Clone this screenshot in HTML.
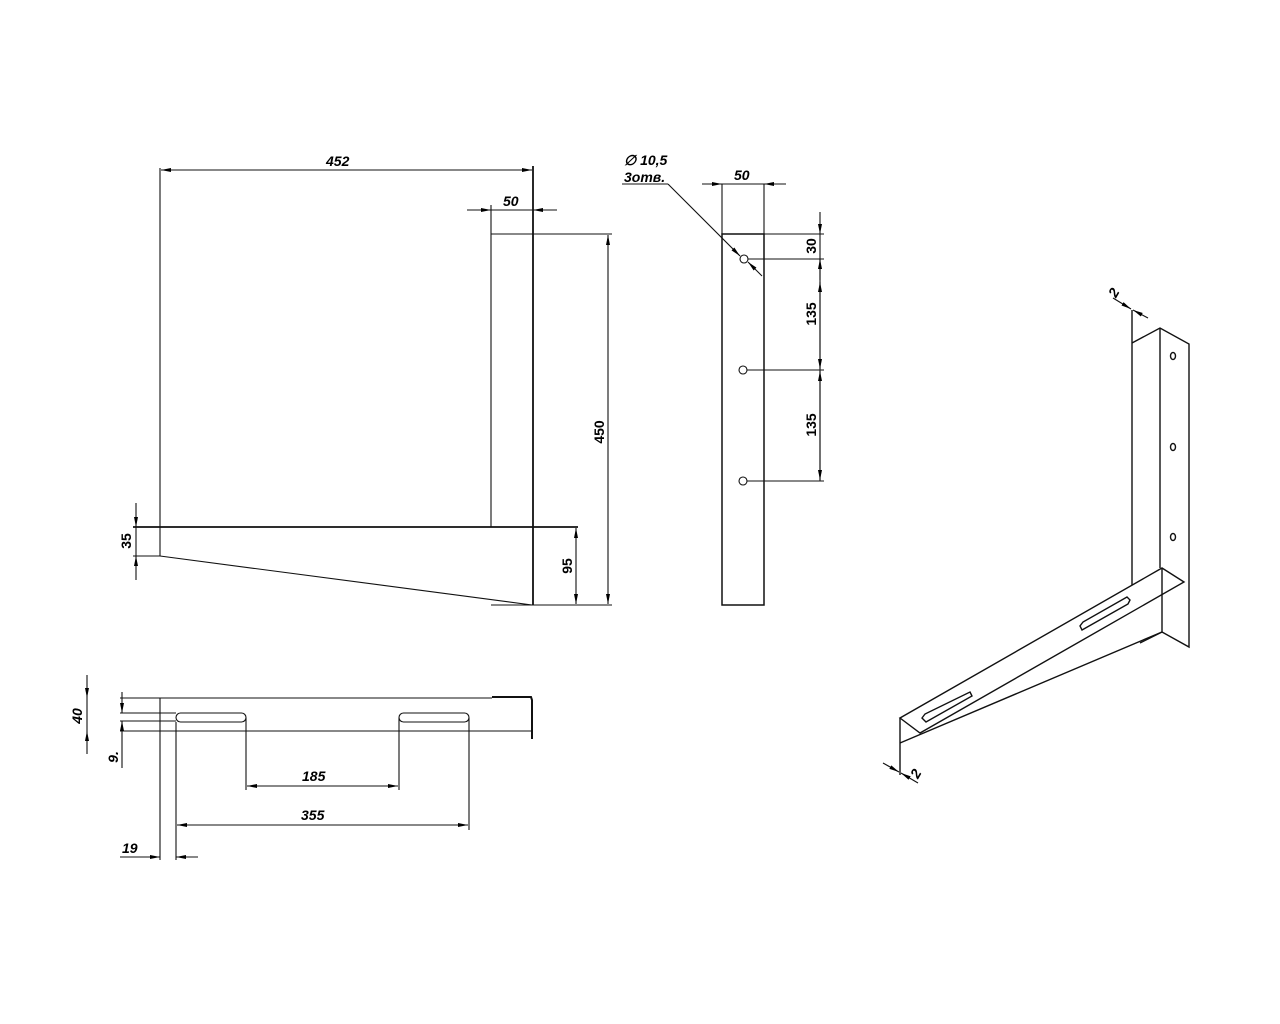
<!DOCTYPE html>
<html><head><meta charset="utf-8"><style>html,body{margin:0;padding:0;background:#fff}svg{display:block}</style></head>
<body>
<svg width="1280" height="1024" viewBox="0 0 1280 1024" xmlns="http://www.w3.org/2000/svg" font-family="Liberation Sans, Arial, sans-serif" font-style="italic" font-weight="bold" font-size="14">
<defs>
<marker id="a" viewBox="0 0 10 4" refX="10" refY="2" markerWidth="10" markerHeight="4" markerUnits="userSpaceOnUse" orient="auto-start-reverse"><path d="M0,0 L10,2 L0,4 z" fill="#000"/></marker>
</defs>
<g stroke="#111" stroke-width="1.1" fill="none">
<line x1="160" y1="168" x2="160" y2="556"/>
<line x1="533" y1="166" x2="533" y2="605" stroke-width="1.8"/>
<line x1="491" y1="205" x2="491" y2="527"/>
<line x1="491" y1="234" x2="612" y2="234"/>
<line x1="133" y1="527" x2="578" y2="527" stroke-width="1.8"/>
<line x1="133" y1="556" x2="160" y2="556"/>
<line x1="160" y1="556" x2="532" y2="605"/>
<line x1="491" y1="605" x2="612" y2="605"/>
<line x1="161" y1="170" x2="532" y2="170" marker-start="url(#a)" marker-end="url(#a)"/>
<line x1="467" y1="210" x2="491" y2="210" marker-end="url(#a)"/>
<line x1="557" y1="210" x2="533" y2="210" marker-end="url(#a)"/>
<line x1="491" y1="210" x2="533" y2="210"/>
<line x1="608" y1="235" x2="608" y2="604" marker-start="url(#a)" marker-end="url(#a)"/>
<line x1="576" y1="528" x2="576" y2="604" marker-start="url(#a)" marker-end="url(#a)"/>
<line x1="136" y1="503" x2="136" y2="527" marker-end="url(#a)"/>
<line x1="136" y1="580" x2="136" y2="556" marker-end="url(#a)"/>
<line x1="136" y1="527" x2="136" y2="556"/>
<rect x="722" y="234" width="42" height="371" stroke-width="1.5"/>
<line x1="722" y1="184" x2="722" y2="234"/>
<line x1="764" y1="184" x2="764" y2="234"/>
<line x1="702" y1="184" x2="722" y2="184" marker-end="url(#a)"/>
<line x1="786" y1="184" x2="764" y2="184" marker-end="url(#a)"/>
<line x1="722" y1="184" x2="764" y2="184"/>
<line x1="722" y1="234" x2="824" y2="234"/>
<circle cx="744" cy="259" r="4"/><circle cx="743" cy="370" r="4"/><circle cx="743" cy="481" r="4"/>
<line x1="748" y1="259" x2="824" y2="259"/>
<line x1="747" y1="370" x2="824" y2="370"/>
<line x1="747" y1="481" x2="824" y2="481"/>
<line x1="820" y1="212" x2="820" y2="234" marker-end="url(#a)"/>
<line x1="820" y1="234" x2="820" y2="259"/>
<line x1="820" y1="259" x2="820" y2="481"/>
<line x1="820" y1="280" x2="820" y2="259" marker-end="url(#a)"/>
<line x1="820" y1="282" x2="820" y2="369" marker-start="url(#a)" marker-end="url(#a)"/>
<line x1="820" y1="371" x2="820" y2="480" marker-start="url(#a)" marker-end="url(#a)"/>
<line x1="622" y1="184" x2="668" y2="184"/>
<line x1="668" y1="184" x2="740" y2="256" marker-end="url(#a)"/>
<line x1="762" y1="276" x2="748" y2="262" marker-end="url(#a)"/>
<line x1="120" y1="698" x2="492" y2="698"/>
<path d="M492,697 L531,697 L532,700 L532,739" stroke-width="2"/>
<line x1="120" y1="731" x2="532" y2="731"/>
<line x1="120" y1="713" x2="176" y2="713"/>
<line x1="120" y1="721" x2="176" y2="721"/>
<rect x="176" y="713" width="70" height="9" rx="4.5"/>
<rect x="399" y="713" width="70" height="9" rx="4.5"/>
<line x1="160" y1="698" x2="160" y2="860"/>
<line x1="176" y1="722" x2="176" y2="860"/>
<line x1="246" y1="718" x2="246" y2="790"/>
<line x1="399" y1="718" x2="399" y2="790"/>
<line x1="469" y1="718" x2="469" y2="830"/>
<line x1="247" y1="786" x2="398" y2="786" marker-start="url(#a)" marker-end="url(#a)"/>
<line x1="177" y1="825" x2="468" y2="825" marker-start="url(#a)" marker-end="url(#a)"/>
<line x1="120" y1="857" x2="160" y2="857" marker-end="url(#a)"/>
<line x1="198" y1="857" x2="176" y2="857" marker-end="url(#a)"/>
<line x1="87" y1="675" x2="87" y2="698" marker-end="url(#a)"/>
<line x1="87" y1="754" x2="87" y2="731" marker-end="url(#a)"/>
<line x1="87" y1="698" x2="87" y2="731"/>
<line x1="122" y1="692" x2="122" y2="713" marker-end="url(#a)"/>
<line x1="122" y1="768" x2="122" y2="721" marker-end="url(#a)"/>
<g stroke-width="1.4">
<path d="M1132,343 L1160,328 L1189,344 L1189,647 L1162,632"/>
<line x1="1132" y1="310" x2="1132" y2="585"/>
<line x1="1160" y1="328" x2="1160" y2="568"/>
<line x1="1162" y1="568" x2="1162" y2="632"/>
<path d="M1162,568 L1184,582 L920,733 L900,718 Z"/>
<line x1="1162" y1="632" x2="900" y2="743"/>
<line x1="900" y1="718" x2="900" y2="775"/>
<line x1="1162" y1="632" x2="1140" y2="643"/>
<path d="M1130,600 L1128,604 L1082,630 L1080,626 L1083,622 L1127,597 Z"/>
<path d="M970,692 L972,696 L926,722 L922,718 L925,714 Z"/>
<ellipse cx="1173" cy="356" rx="2.5" ry="3.5"/>
<ellipse cx="1173" cy="447" rx="2.5" ry="3.5"/>
<ellipse cx="1173" cy="537" rx="2.5" ry="3.5"/>
</g>
<line x1="1113" y1="298" x2="1131" y2="309" marker-end="url(#a)"/>
<line x1="1148" y1="318" x2="1133" y2="310" marker-end="url(#a)"/>
<line x1="883" y1="763" x2="899" y2="772" marker-end="url(#a)"/>
<line x1="918" y1="783" x2="901" y2="773" marker-end="url(#a)"/>
</g>
<g fill="#000" stroke="none">
<text x="326" y="166">452</text>
<text x="503" y="206">50</text>
<text x="734" y="180">50</text>
<text x="624" y="165">∅ 10,5</text>
<text x="624" y="182">3отв.</text>
<text x="302" y="781">185</text>
<text x="301" y="820">355</text>
<text x="122" y="853">19</text>
<g font-style="normal">
<text transform="translate(604,432) rotate(-90)" text-anchor="middle">450</text>
<text transform="translate(572,566) rotate(-90)" text-anchor="middle">95</text>
<text transform="translate(816,246) rotate(-90)" text-anchor="middle">30</text>
<text transform="translate(816,314) rotate(-90)" text-anchor="middle">135</text>
<text transform="translate(816,425) rotate(-90)" text-anchor="middle">135</text>
<text transform="translate(131,541) rotate(-90)" text-anchor="middle">35</text>
</g>
<text transform="translate(82,716) rotate(-90)" text-anchor="middle">40</text>
<text transform="translate(118,757) rotate(-90)" text-anchor="middle">9.</text>
<text transform="translate(1118,295) rotate(-60)" text-anchor="middle">2</text>
<text transform="translate(920,776) rotate(-60)" text-anchor="middle">2</text>
</g>
</svg>
</body></html>
